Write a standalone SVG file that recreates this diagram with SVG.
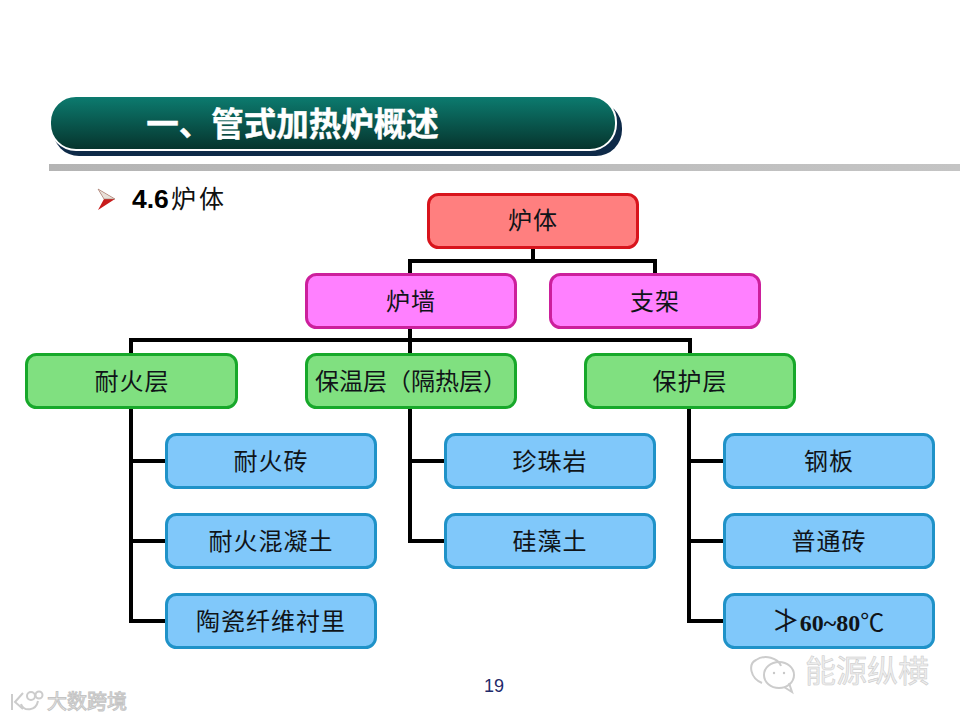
<svg xmlns="http://www.w3.org/2000/svg" width="960" height="720" viewBox="0 0 960 720">
<style>
text{font-family:"Noto Sans CJK SC","Noto Sans",sans-serif;text-anchor:middle}
.box{stroke-width:3}
.red{fill:#ff7f7f;stroke:#d8141c}
.pink{fill:#ff80ff;stroke:#cc1f9c}
.green{fill:#80e080;stroke:#17a82a}
.blue{fill:#80c8fa;stroke:#1f92c8}
.lb{font-size:24px;fill:#101418;letter-spacing:1px}
.conn{fill:none;stroke:#000;stroke-width:4}
.wm{fill:#f2f2f2;stroke:#c4c4c4;stroke-width:1}
.ic{fill:none;stroke:#cccccc;stroke-width:2}
</style>
<defs>
<linearGradient id="hd" x1="0" y1="0" x2="0" y2="1"><stop offset="0" stop-color="#0c7c70"/><stop offset="1" stop-color="#06332c"/></linearGradient>
<linearGradient id="bar" x1="0" y1="0" x2="1" y2="0"><stop offset="0" stop-color="#b4b4b4"/><stop offset="1" stop-color="#c4c4c4"/></linearGradient>
</defs>
<rect width="960" height="720" fill="#fff"/>
<g id="header">
<rect x="53" y="102" width="569" height="54" rx="26" fill="#0e2a48"/>
<rect x="50" y="96" width="566" height="54" rx="26" fill="url(#hd)" stroke="#fff" stroke-width="2"/>
<text x="292.500" y="136" font-size="32.500" font-weight="700" fill="#fff" stroke="#fff" stroke-width="0.4">一、管式加热炉概述</text>
<rect x="49" y="164" width="911" height="7" fill="url(#bar)"/>
</g>
<g id="subtitle">
<path d="M98 189L115 199L98 210L104 199Z" fill="#c81c1c"/>
<path d="M98 189L115 199L104 199Z" fill="#e8e0d8" stroke="#a08070" stroke-width="0.6"/>
<text x="132" y="208" font-size="26.500" font-weight="700" fill="#000" style="text-anchor:start;font-family:'Liberation Sans',sans-serif">4.6</text>
<text x="199" y="208" font-size="25" fill="#101010" letter-spacing="3">炉体</text>
</g>
<g id="connectors" class="conn">
<path d="M533 247V261M410 274V261H655V274"/>
<path d="M410 327V354M131 354V340H690V354"/>
<path d="M131 407V621H166M131 461H166M131 541H166"/>
<path d="M410 407V541H445M410 461H445"/>
<path d="M689 407V621H724M689 461H724M689 541H724"/>
</g>
<g id="n-luti"><rect class="box red" x="428.500" y="194.500" width="209" height="53" rx="10"/><text class="lb" x="533" y="229">炉体</text></g>
<g id="n-luqiang"><rect class="box pink" x="306.500" y="274.500" width="209" height="53" rx="10"/><text class="lb" x="411" y="310">炉墙</text></g>
<g id="n-zhijia"><rect class="box pink" x="550.500" y="274.500" width="209" height="53" rx="10"/><text class="lb" x="655" y="310">支架</text></g>
<g id="n-naihuo"><rect class="box green" x="26.500" y="354.500" width="210" height="53" rx="10"/><text class="lb" x="132" y="390">耐火层</text></g>
<g id="n-baowen"><rect class="box green" x="306.500" y="354.500" width="209" height="53" rx="10"/><text class="lb" x="411" y="390" style="letter-spacing:0">保温层（隔热层）</text></g>
<g id="n-baohu"><rect class="box green" x="585.500" y="354.500" width="209" height="53" rx="10"/><text class="lb" x="690" y="390">保护层</text></g>
<g id="n-nhz"><rect class="box blue" x="166.500" y="434.500" width="209" height="53" rx="10"/><text class="lb" x="271" y="470">耐火砖</text></g>
<g id="n-nhhnt"><rect class="box blue" x="166.500" y="514.500" width="209" height="53" rx="10"/><text class="lb" x="271" y="550">耐火混凝土</text></g>
<g id="n-tcxw"><rect class="box blue" x="166.500" y="594.500" width="209" height="53" rx="10"/><text class="lb" x="271" y="630">陶瓷纤维衬里</text></g>
<g id="n-zzy"><rect class="box blue" x="445.500" y="434.500" width="209" height="53" rx="10"/><text class="lb" x="550" y="470">珍珠岩</text></g>
<g id="n-gzt"><rect class="box blue" x="445.500" y="514.500" width="209" height="53" rx="10"/><text class="lb" x="550" y="550">硅藻土</text></g>
<g id="n-gb"><rect class="box blue" x="724.500" y="434.500" width="209" height="53" rx="10"/><text class="lb" x="829" y="470">钢板</text></g>
<g id="n-ptz"><rect class="box blue" x="724.500" y="514.500" width="209" height="53" rx="10"/><text class="lb" x="829" y="550">普通砖</text></g>
<g id="n-temp"><rect class="box blue" x="724.500" y="594.500" width="209" height="53" rx="10"/><text class="lb" x="828" y="631" style="letter-spacing:0"><tspan font-size="28">≯</tspan><tspan font-family="Liberation Serif" font-weight="700">60~80</tspan>℃</text></g>
<text x="494" y="692" font-size="18" fill="#1f2a6a" style="font-family:'Liberation Sans',sans-serif">19</text>
<g id="watermark-right">
<path class="ic" d="M762 683C750 678 748 664 756 660C765 654 778 658 781 666"/>
<ellipse cx="779" cy="675" rx="15" ry="13" class="ic"/>
<path class="ic" d="M784 687L792 692L789 683"/>
<circle cx="774" cy="673" r="1.200" fill="#c8c8c8"/><circle cx="784" cy="673" r="1.200" fill="#c8c8c8"/>
<text x="867" y="682" font-size="31" fill="#ededed" stroke="#c8c8c8" stroke-width="0.5">能源纵横</text>
</g>
<g id="watermark-left">
<path class="ic" d="M12 694V710M23 693L15 702L23 709M21 704C24 712 36 711 38 701"/>
<circle cx="31" cy="696" r="4" class="ic"/><circle cx="39" cy="695" r="3.500" class="ic"/>
<text x="87" y="709" font-size="20" class="wm">大数跨境</text>
</g>
</svg>
